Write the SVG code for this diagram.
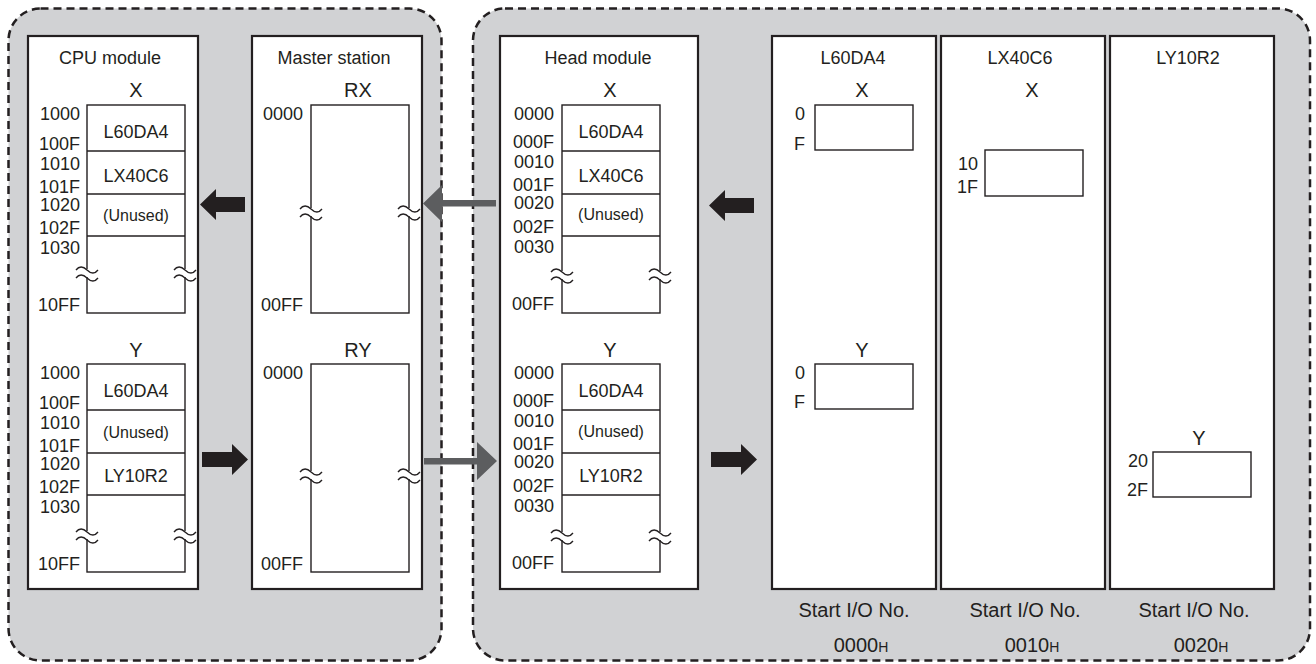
<svg xmlns="http://www.w3.org/2000/svg" xmlns:xlink="http://www.w3.org/1999/xlink" width="1316" height="664" viewBox="0 0 1316 664">
<style>
text{font-family:"Liberation Sans",Arial,sans-serif;fill:#231f20}
.t{font-size:18px;text-anchor:middle}
.a{font-size:18px;text-anchor:end}
.c{font-size:18px;text-anchor:middle}
.h{font-size:20px;text-anchor:middle}
.u{font-size:16px;text-anchor:middle}
.s{font-size:20px;text-anchor:middle}
.cont{fill:#d1d2d4;stroke:#231f20;stroke-width:2.5;stroke-dasharray:8 5}
.box{fill:#fff;stroke:#231f20;stroke-width:2.2}
.mem{fill:#fff;stroke:#231f20;stroke-width:1.4}
.div{stroke:#231f20;stroke-width:1.4}
.blk{fill:#231f20}
.gry{fill:#5c5d5f}
.wv{fill:none;stroke:#231f20;stroke-width:1.3}
</style>
<defs>
<g id="brk">
<rect x="-2" y="-4" width="4" height="8" fill="#fff"/>
<path class="wv" d="M-11,-3 c3,-4 7,-4 11,0 s8,4 11,0 M-11,5 c3,-4 7,-4 11,0 s8,4 11,0"/>
</g>
</defs>

<g id="container-left"><rect class="cont" x="8.5" y="8.5" width="433" height="652" rx="32"/></g>
<g id="container-right"><rect class="cont" x="473" y="8.5" width="837" height="652" rx="32"/></g>

<g id="cpu-module">
<rect class="box" x="28" y="36" width="170" height="553"/>
<text class="t" x="110" y="64">CPU module</text>
<text class="h" x="136" y="97">X</text>
<rect class="mem" x="87" y="105" width="98" height="208"/>
<line class="div" x1="87" y1="151" x2="185" y2="151"/>
<line class="div" x1="87" y1="194" x2="185" y2="194"/>
<line class="div" x1="87" y1="236" x2="185" y2="236"/>
<text class="c" x="136" y="138">L60DA4</text>
<text class="c" x="136" y="182">LX40C6</text>
<text class="u" x="136" y="221">(Unused)</text>
<text class="a" x="80" y="120">1000</text>
<text class="a" x="80" y="150">100F</text>
<text class="a" x="80" y="170">1010</text>
<text class="a" x="80" y="193">101F</text>
<text class="a" x="80" y="211">1020</text>
<text class="a" x="80" y="234">102F</text>
<text class="a" x="80" y="254">1030</text>
<text class="a" x="80" y="311">10FF</text>
<use xlink:href="#brk" x="87" y="273"/>
<use xlink:href="#brk" x="185" y="273"/>
<text class="h" x="136" y="357">Y</text>
<rect class="mem" x="87" y="364" width="98" height="208"/>
<line class="div" x1="87" y1="410" x2="185" y2="410"/>
<line class="div" x1="87" y1="453" x2="185" y2="453"/>
<line class="div" x1="87" y1="495" x2="185" y2="495"/>
<text class="c" x="136" y="397">L60DA4</text>
<text class="u" x="136" y="438">(Unused)</text>
<text class="c" x="136" y="482">LY10R2</text>
<text class="a" x="80" y="379">1000</text>
<text class="a" x="80" y="409">100F</text>
<text class="a" x="80" y="429">1010</text>
<text class="a" x="80" y="452">101F</text>
<text class="a" x="80" y="470">1020</text>
<text class="a" x="80" y="493">102F</text>
<text class="a" x="80" y="513">1030</text>
<text class="a" x="80" y="570">10FF</text>
<use xlink:href="#brk" x="87" y="535"/>
<use xlink:href="#brk" x="185" y="535"/>
</g>

<g id="master-station">
<rect class="box" x="252" y="36" width="170" height="553"/>
<text class="t" x="334" y="64">Master station</text>
<text class="h" x="358" y="97">RX</text>
<rect class="mem" x="311" y="105" width="98" height="208"/>
<text class="a" x="303" y="120">0000</text>
<text class="a" x="303" y="311">00FF</text>
<use xlink:href="#brk" x="311" y="212"/>
<use xlink:href="#brk" x="409" y="212"/>
<text class="h" x="358" y="357">RY</text>
<rect class="mem" x="311" y="364" width="98" height="208"/>
<text class="a" x="303" y="379">0000</text>
<text class="a" x="303" y="570">00FF</text>
<use xlink:href="#brk" x="311" y="475"/>
<use xlink:href="#brk" x="409" y="475"/>
</g>

<g id="head-module">
<rect class="box" x="500" y="36" width="198" height="553"/>
<text class="t" x="598" y="64">Head module</text>
<text class="h" x="610" y="97">X</text>
<rect class="mem" x="562" y="105" width="98" height="208"/>
<line class="div" x1="562" y1="151" x2="660" y2="151"/>
<line class="div" x1="562" y1="194" x2="660" y2="194"/>
<line class="div" x1="562" y1="236" x2="660" y2="236"/>
<text class="c" x="611" y="138">L60DA4</text>
<text class="c" x="611" y="182">LX40C6</text>
<text class="u" x="611" y="220">(Unused)</text>
<text class="a" x="554" y="120">0000</text>
<text class="a" x="554" y="148">000F</text>
<text class="a" x="554" y="168">0010</text>
<text class="a" x="554" y="191">001F</text>
<text class="a" x="554" y="209">0020</text>
<text class="a" x="554" y="233">002F</text>
<text class="a" x="554" y="253">0030</text>
<text class="a" x="554" y="310">00FF</text>
<use xlink:href="#brk" x="562" y="275"/>
<use xlink:href="#brk" x="660" y="275"/>
<text class="h" x="610" y="357">Y</text>
<rect class="mem" x="562" y="364" width="98" height="208"/>
<line class="div" x1="562" y1="410" x2="660" y2="410"/>
<line class="div" x1="562" y1="453" x2="660" y2="453"/>
<line class="div" x1="562" y1="495" x2="660" y2="495"/>
<text class="c" x="611" y="397">L60DA4</text>
<text class="u" x="611" y="437">(Unused)</text>
<text class="c" x="611" y="482">LY10R2</text>
<text class="a" x="554" y="379">0000</text>
<text class="a" x="554" y="407">000F</text>
<text class="a" x="554" y="427">0010</text>
<text class="a" x="554" y="450">001F</text>
<text class="a" x="554" y="468">0020</text>
<text class="a" x="554" y="492">002F</text>
<text class="a" x="554" y="512">0030</text>
<text class="a" x="554" y="569">00FF</text>
<use xlink:href="#brk" x="562" y="536"/>
<use xlink:href="#brk" x="660" y="536"/>
</g>

<g id="l60da4">
<rect class="box" x="772" y="36" width="164" height="553"/>
<text class="t" x="853" y="64">L60DA4</text>
<text class="h" x="862" y="97">X</text>
<rect class="mem" x="815" y="105" width="98" height="45"/>
<text class="a" x="805" y="120">0</text>
<text class="a" x="805" y="150">F</text>
<text class="h" x="862" y="357">Y</text>
<rect class="mem" x="815" y="364" width="98" height="45"/>
<text class="a" x="805" y="379">0</text>
<text class="a" x="805" y="408">F</text>
<text class="s" x="854" y="617">Start I/O No.</text>
<text class="s" x="861" y="652">0000<tspan font-size="14">H</tspan></text>
</g>

<g id="lx40c6">
<rect class="box" x="941" y="36" width="164" height="553"/>
<text class="t" x="1020" y="64">LX40C6</text>
<text class="h" x="1032" y="97">X</text>
<rect class="mem" x="985" y="150" width="98" height="46"/>
<text class="a" x="978" y="170">10</text>
<text class="a" x="978" y="193">1F</text>
<text class="s" x="1025" y="617">Start I/O No.</text>
<text class="s" x="1032" y="652">0010<tspan font-size="14">H</tspan></text>
</g>

<g id="ly10r2">
<rect class="box" x="1110" y="36" width="164" height="553"/>
<text class="t" x="1188" y="64">LY10R2</text>
<text class="h" x="1199" y="445">Y</text>
<rect class="mem" x="1153" y="452" width="98" height="45"/>
<text class="a" x="1148" y="467">20</text>
<text class="a" x="1148" y="496">2F</text>
<text class="s" x="1194" y="617">Start I/O No.</text>
<text class="s" x="1201" y="652">0020<tspan font-size="14">H</tspan></text>
</g>

<g id="connectors">
<polygon class="blk" points="200,204.5 216,189 216,197 245,197 245,212 216,212 216,220"/>
<polygon class="blk" points="248,459.5 232,444 232,452 202,452 202,467 232,467 232,475"/>
<polygon class="gry" points="423,203.5 442,185 442,200 496,200 496,206.5 442,206.5 442,222"/>
<polygon class="gry" points="497,461 477,442 477,458 424,458 424,464.5 477,464.5 477,480"/>
<polygon class="blk" points="709,205.5 725,190 725,198 754,198 754,213 725,213 725,221"/>
<polygon class="blk" points="757,459.5 741,444 741,452 711,452 711,467 741,467 741,475"/>
</g>
</svg>
